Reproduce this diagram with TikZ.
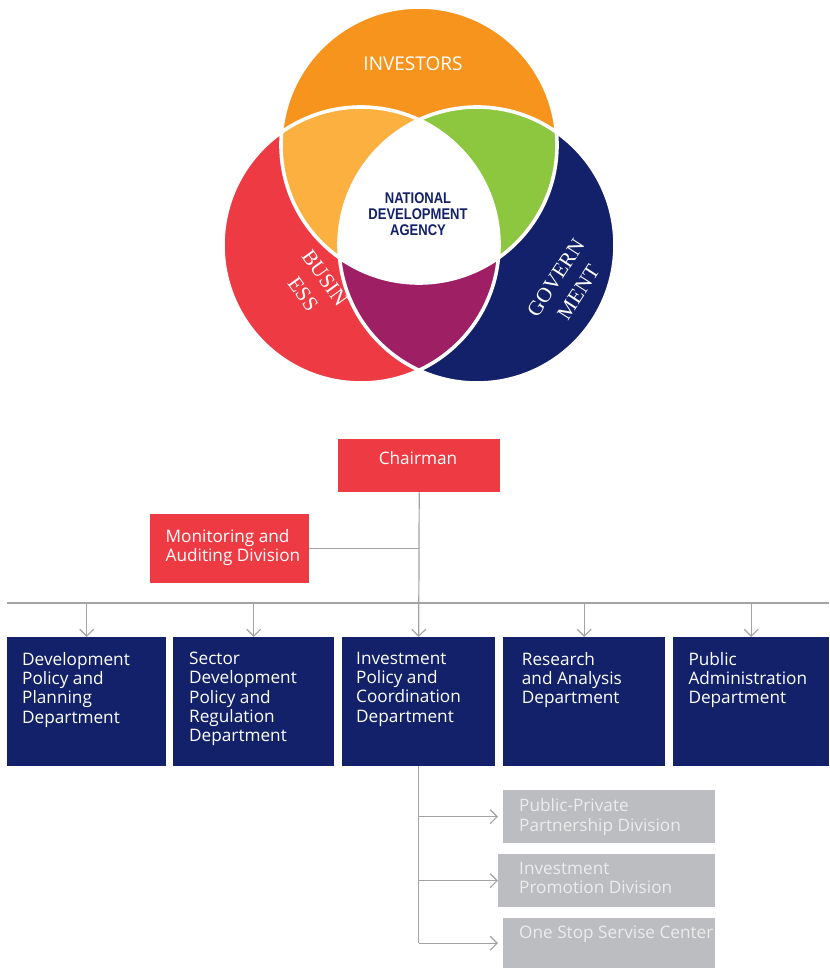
\documentclass[tikz,border=0pt]{standalone}
\usepackage{fontspec}
\setmainfont{Open Sans}
\newfontfamily\ndafont[FakeStretch=0.84]{Liberation Sans}
\newfontfamily\vennfont{Liberation Serif}
\usetikzlibrary{arrows.meta}

\definecolor{vOrange}{HTML}{F7941D}
\definecolor{vLtOrange}{HTML}{FBB040}
\definecolor{vGreen}{HTML}{8DC63F}
\definecolor{vRed}{HTML}{EE3A43}
\definecolor{vNavy}{HTML}{13216A}
\definecolor{vPurple}{HTML}{9E1F63}
\definecolor{boxGray}{HTML}{BCBDC0}
\definecolor{txtGray}{HTML}{ECECEC}
\definecolor{lineGray}{HTML}{A3A3A3}

\tikzset{
  blk/.style={inner sep=0pt, anchor=north west},
  redbox/.style={blk, fill=vRed},
  navybox/.style={blk, fill=vNavy, minimum height=129},
  graybox/.style={blk, fill=boxGray, minimum width=212, minimum height=53},
  boxtext/.style={inner sep=0pt, anchor=north west, align=left, text=white,
    font=\fontsize{17.2}{19.3}\selectfont},
  graytext/.style={boxtext, text=txtGray},
  conn/.style={draw=lineGray, line width=1.2pt},
  tip/.style={-{Straight Barb[length=7pt, width=14pt, line width=1.2pt]}},
  ring/.style={draw=white, line width=3.6pt},
  vennlbl/.style={text=white, align=center,
    font=\vennfont\fontsize{21}{27}\selectfont},
}

\begin{document}
\begin{tikzpicture}[x=1pt, y=-1pt]
\useasboundingbox (0,0) rectangle (829,968);

% ---- three overlapping circles ----
\def\rad{138}
\coordinate (cO) at (419,145);
\coordinate (cR) at (361,245);
\coordinate (cN) at (477,245);

\fill[vRed] (cR) circle[radius=\rad];
\fill[vNavy] (cN) circle[radius=\rad];
\fill[vOrange] (cO) circle[radius=\rad];
\begin{scope}
  \clip (cO) circle[radius=\rad];
  \fill[vLtOrange] (cR) circle[radius=\rad];
  \fill[vGreen] (cN) circle[radius=\rad];
\end{scope}
\begin{scope}
  \clip (cR) circle[radius=\rad];
  \fill[vPurple] (cN) circle[radius=\rad];
  \clip (cN) circle[radius=\rad];
  \fill[white] (cO) circle[radius=\rad];
\end{scope}
\draw[ring] (cO) circle[radius=\rad];
\draw[ring] (cR) circle[radius=\rad];
\draw[ring] (cN) circle[radius=\rad];

\node[text=white, inner sep=0pt, font=\fontsize{19}{22}\selectfont]
  (invLbl) at (413,64) {INVESTORS};
\node[text=vNavy, align=center, inner sep=0pt,
  font=\ndafont\bfseries\fontsize{15.5}{15.8}\selectfont]
  (ndaLbl) at (418,214) {NATIONAL\\DEVELOPMENT\\AGENCY};
\node[vennlbl, rotate=-54] (busLbl) at (314,286) {BUSIN\\ESS};
\node[vennlbl, rotate=57] (govLbl) at (567,285) {GOVERN\\MENT};

% ---- organisation chart ----
\node[redbox, minimum width=162, minimum height=53] (chair) at (338,439) {};
\node[redbox, minimum width=159, minimum height=69] (mon) at (150,514) {};

\node[navybox, minimum width=159] (d1) at (7,637) {};
\node[navybox, minimum width=161] (d2) at (173,637) {};
\node[navybox, minimum width=153] (dInv) at (342,637) {};
\node[navybox, minimum width=162] (d4) at (503,637) {};
\node[navybox, minimum width=156] (d5) at (673,637) {};

\node[graybox] (ppp) at (503,790) {};
\node[graybox, minimum width=217] (ipd) at (498,854) {};
\node[graybox, minimum height=50] (oss) at (503,918) {};

% box captions
\node[boxtext, anchor=north] (chairLbl) at (418,450.9) {Chairman};
\node[boxtext] (monLbl) at (165.5,529) {Monitoring and\\Auditing Division};
\node[boxtext] (d1Lbl) at (22,651.9) {Development\\Policy and\\Planning\\Department};
\node[boxtext] (d2Lbl) at (189,651.9) {Sector\\Development\\Policy and\\Regulation\\Department};
\node[boxtext] (d3Lbl) at (356,651.9) {Investment\\Policy and\\Coordination\\Department};
\node[boxtext] (d4Lbl) at (521.7,651.9) {Research\\and Analysis\\Department};
\node[boxtext] (d5Lbl) at (688.3,651.9) {Public\\Administration\\Department};
\node[graytext] (pppLbl) at (519,798.5) {Public-Private\\Partnership Division};
\node[graytext] (ipdLbl) at (519,862) {Investment\\Promotion Division};
\node[graytext] (ossLbl) at (519,926) {One Stop Servise Center};

% connectors
\coordinate (busL) at (7,603);
\coordinate (busR) at (829,603);
\draw[conn] (busL) -- (busR);
\draw[conn, tip] (chair.south) -- (dInv.north);
\draw[conn] (mon.east) -- (mon.east -| chair.south);
\foreach \d in {d1,d2,d4,d5}
  \draw[conn, tip] (\d.north |- busL) -- (\d.north);
\draw[conn] (dInv.south) -- (dInv.south |- oss.west);
\foreach \b in {ppp,ipd,oss}
  \draw[conn, tip] (dInv.south |- \b.west) -- (ipd.west |- \b.west);
\end{tikzpicture}
\end{document}
